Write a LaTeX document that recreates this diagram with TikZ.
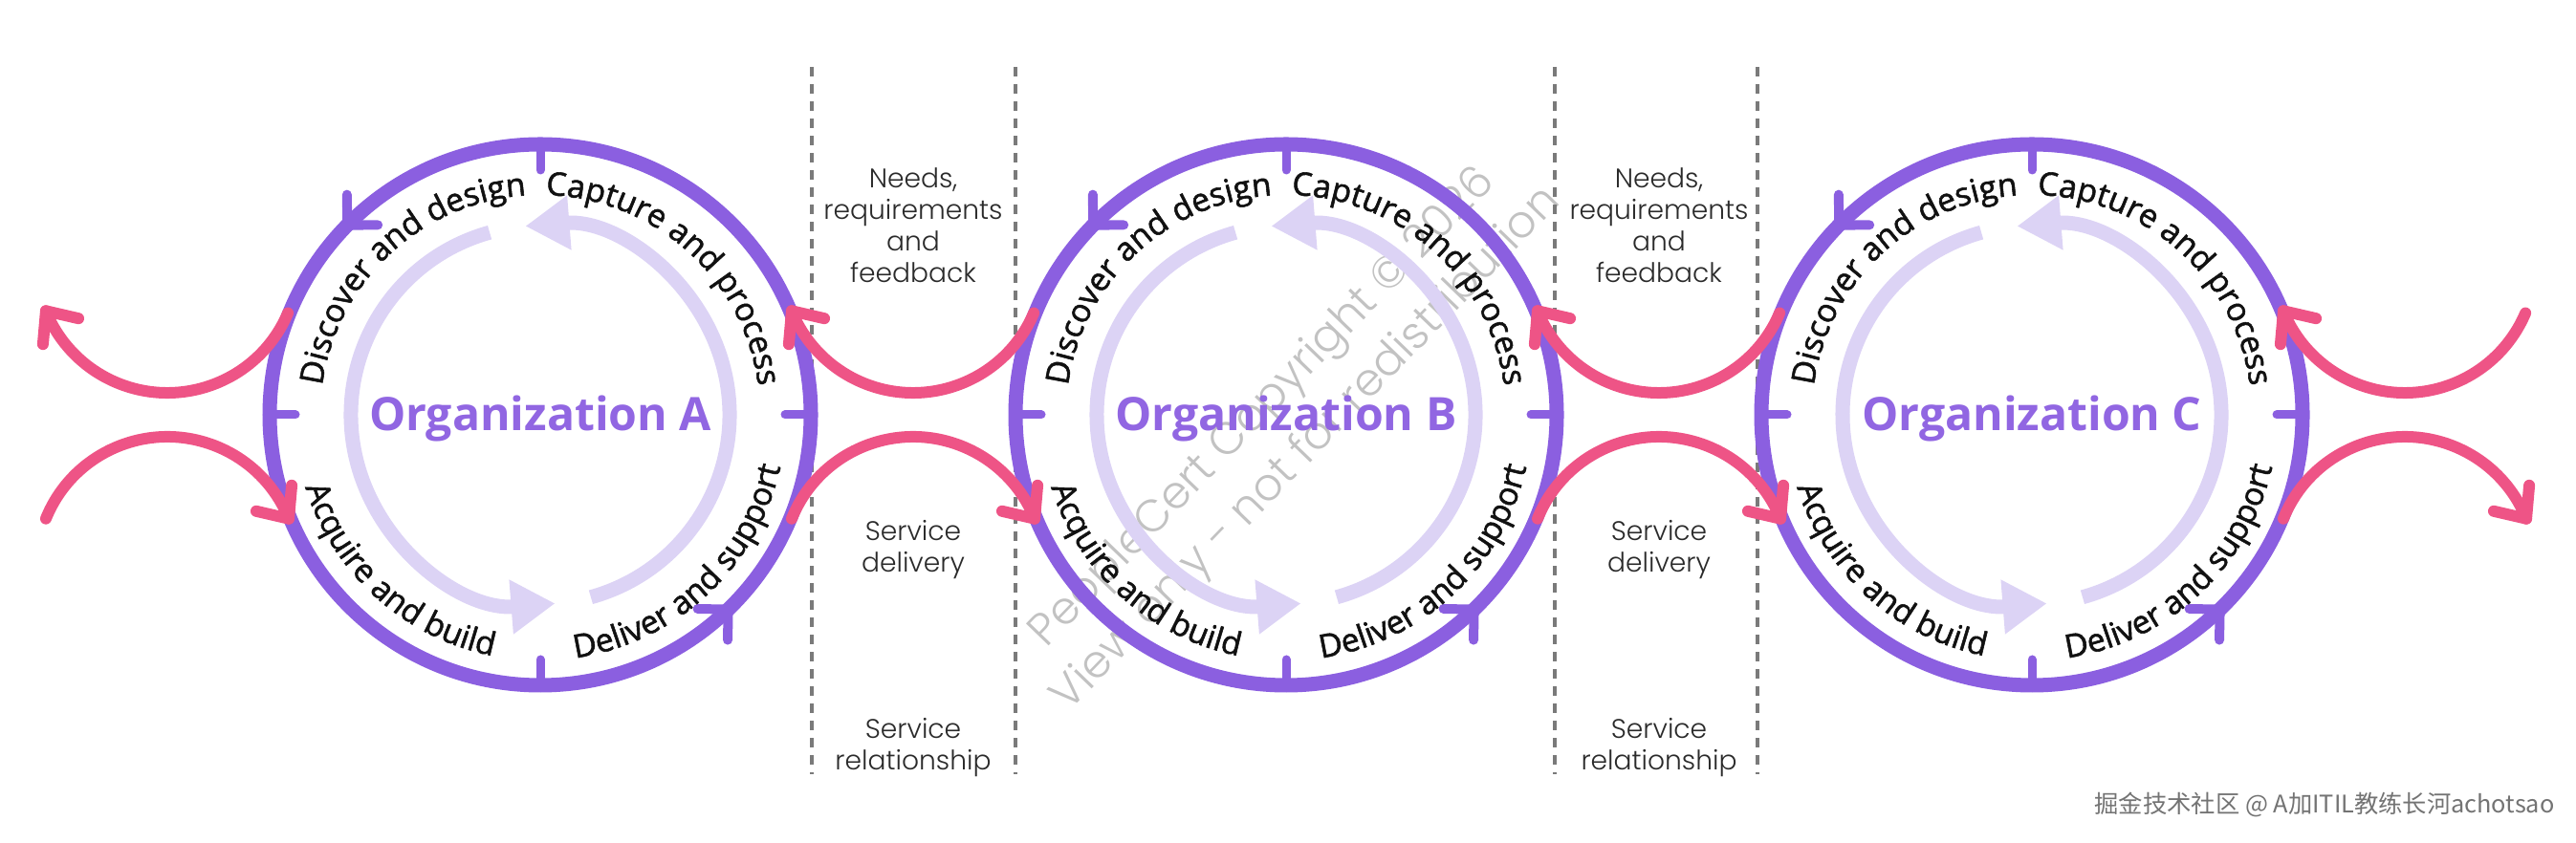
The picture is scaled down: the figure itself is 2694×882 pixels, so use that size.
\documentclass[tikz,border=0pt]{standalone}
\usepackage{fontspec}
\usetikzlibrary{arrows.meta,calc,decorations.text}
\newfontfamily\osans{Open Sans}
\newfontfamily\osanslbl{Open Sans}[FakeBold=1.6]
\newfontfamily\cjkfont{Noto Sans CJK SC}
\IfFontExistsTF{Poppins Light}{\newfontfamily\thinfont{Poppins Light}}{\newfontfamily\thinfont{Poppins}}
\definecolor{purp}{HTML}{8B5FE0}
\definecolor{orgc}{HTML}{9166E2}
\definecolor{lav}{HTML}{DCD3F5}
\definecolor{pinkc}{HTML}{EE5486}
\definecolor{dashc}{HTML}{7A7A7A}
\definecolor{txtc}{HTML}{111111}
\definecolor{midtxt}{HTML}{2A2A2A}
\newcommand{\lblfont}{\osanslbl\fontsize{9.6pt}{11pt}\selectfont}
\tikzset{
  ring/.style={draw=purp, line width=0.15cm},
  ringtick/.style={draw=purp, line width=0.09cm, line cap=round},
  chev/.style={draw=purp, line width=0.10cm, line cap=round, line join=round},
  innerarc/.style={draw=lav, line width=0.15cm, -{Triangle[length=0.46cm,width=0.54cm]}},
  pinkarc/.style={draw=pinkc, line width=0.12cm, line cap=round},
  pinkchev/.style={draw=pinkc, line width=0.12cm, line cap=round, line join=round},
  divider/.style={draw=dashc, line width=0.048cm, dash pattern=on 0.10cm off 0.08cm},
  orglabel/.style={font=\osans\bfseries\fontsize{13.7pt}{16pt}\selectfont, text=orgc, anchor=base, inner sep=0pt},
  midtext/.style={font=\thinfont\fontsize{8pt}{9.4pt}\selectfont, text=midtxt, align=center, inner sep=0pt},
}
\begin{document}
\begin{tikzpicture}[x=0.01cm, y=0.01cm]
\useasboundingbox (0,0) rectangle (2694,882);
% watermark
\node[rotate=46, align=center, text=black!24, font=\thinfont\fontsize{13.4pt}{18pt}\selectfont] (wm) at (1344,433) {PeopleCert Copyright © 2026\\View only - not for redistribution};
% dividers
\foreach \dx [count=\i] in {849,1062,1626,1838} {
  \coordinate (dt\i) at (\dx,812);
  \coordinate (db\i) at (\dx,72);
  \draw[divider] (dt\i) -- (db\i);
}
% organizations
\foreach \n/\x in {A/565,B/1345,C/2125} {
  \coordinate (\n) at (\x,448);
  \draw[ring] (\n) circle[radius=283];
  \foreach \a in {0,90,180,270}
    \draw[ringtick] ($(\n)+(\a:283)$) -- ($(\n)+(\a:256)$);
  % chevrons showing the counterclockwise flow
  \foreach \t in {135.5,-46} {
    \coordinate (\n-tip) at ($(\n)+(\t:283)$);
    \draw[chev] ($(\n-tip)+(\t-45:32)$) -- (\n-tip) -- ($(\n-tip)+(\t-135:32)$);
  }
  % inner light arcs
  \draw[innerarc] ($(\n)+(105.5:198)$) arc[start angle=105.5, end angle=274.5, radius=198];
  \draw[innerarc] ($(\n)+(285.5:198)$) arc[start angle=285.5, end angle=454.5, radius=198];
  \node[orglabel] (org\n) at ($(\n)+(0,-17)$) {Organization \n};
  % activity labels along the ring
  \path[decorate, decoration={text along path, text align=center, text={|\lblfont\color{txtc}|Discover and design}}]
    ($(\n)+(178:230)$) arc[start angle=178, end angle=88, radius=230];
  \path[decorate, decoration={text along path, text align=center, text={|\lblfont\color{txtc}|Capture and process}}]
    ($(\n)+(93:230)$) arc[start angle=93, end angle=3, radius=230];
  \path[decorate, decoration={text along path, text align=center, text={|\lblfont\color{txtc}|Acquire and build}}]
    ($(\n)+(183:257)$) arc[start angle=183, end angle=273, radius=257];
  \path[decorate, decoration={text along path, text align=center, text={|\lblfont\color{txtc}|Deliver and support}}]
    ($(\n)+(268:257)$) arc[start angle=268, end angle=358, radius=257];
}
% pink exchange arcs: upper ones run right to left, lower ones left to right
\foreach \m [count=\i] in {175,955,1735,2515} {
  \coordinate (pu\i) at (\m,608);
  \coordinate (pl\i) at (\m,288);
  \coordinate (pue\i) at ($(pu\i)+(202:137)$);
  \coordinate (ple\i) at ($(pl\i)+(22:137)$);
  \draw[pinkarc] ($(pu\i)+(337:137)$) arc[start angle=337, end angle=202, radius=137];
  \draw[pinkchev] ($(pue\i)+(265:35)$) -- (pue\i) -- ($(pue\i)+(347:35)$);
  \draw[pinkarc] ($(pl\i)+(158:137)$) arc[start angle=158, end angle=22, radius=137];
  \draw[pinkchev] ($(ple\i)+(85:35)$) -- (ple\i) -- ($(ple\i)+(167:35)$);
}
% middle texts
\foreach \m/\k in {955/1,1735/2} {
  \node[midtext] (needs\k) at (\m,646) {Needs,\\requirements\\and\\feedback};
  \node[midtext] (deliv\k) at (\m,307) {Service\\delivery};
  \node[midtext] (rel\k) at (\m,100) {Service\\relationship};
}
\node[font=\cjkfont\fontsize{7.2pt}{8pt}\selectfont, text=black!55, inner sep=0pt] (wm2) at (2431,40) {掘金技术社区 @ A加ITIL教练长河achotsao};
\end{tikzpicture}
\end{document}
